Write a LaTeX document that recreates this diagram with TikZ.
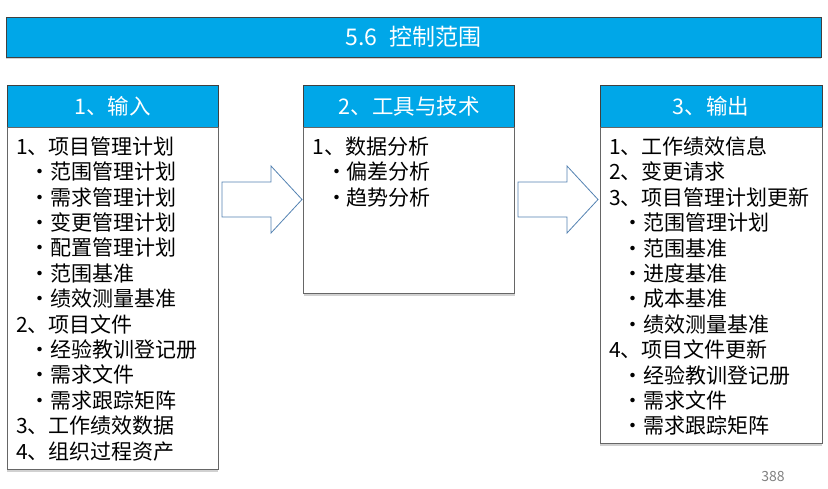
\documentclass[tikz,border=0pt]{standalone}
\usepackage{fontspec}
\setmainfont{Noto Sans CJK SC}
\usetikzlibrary{positioning,shadows}
\definecolor{headblue}{RGB}{0,167,232}
\definecolor{arrowblue}{RGB}{84,130,178}
\definecolor{pagegray}{RGB}{128,128,128}
\newcommand{\bul}[1]{\hspace*{24pt}\makebox[0pt]{\textbullet}\hspace*{10pt}#1}

\begin{document}
\begin{tikzpicture}[
    x=1pt, y=-1pt,
    node distance=85pt,
    shade/.style={drop shadow={shadow xshift=0pt, shadow yshift=-2pt, opacity=0.3, fill=black!60}},
    titlebox/.style={draw=black!75, fill=headblue, text=white, shade, minimum width=815pt, minimum height=40pt, font=\fontsize{23}{27}\selectfont},
    headbox/.style={draw=black!75, fill=headblue, text=white, shade, minimum height=42pt, font=\fontsize{21.5}{25}\selectfont},
    bodybox/.style={draw=black!60, fill=white, shade, inner xsep=9pt, inner ysep=0pt, font=\fontsize{21}{25.4}\selectfont},
    bigarrow/.style={draw=arrowblue, fill=white, line width=0.8pt, line join=miter}
  ]
  \useasboundingbox (0,0) rectangle (828,488);

  \node[titlebox] (title) at (413.5,37) {5.6\hspace{0.5em}控制范围};

  % three columns
  \node[headbox, minimum width=211pt, anchor=north west] (in-head) at (7,85) {1、输入};
  \node[headbox, minimum width=211pt, right=of in-head] (tt-head) {2、工具与技术};
  \node[headbox, minimum width=222pt, right=of tt-head] (out-head) {3、输出};

  \node[bodybox, below=0pt of in-head] (in-body) {\parbox[t][342pt][t]{193pt}{\vspace*{9pt}%
    1、项目管理计划\\
    \bul{范围管理计划}\\
    \bul{需求管理计划}\\
    \bul{变更管理计划}\\
    \bul{配置管理计划}\\
    \bul{范围基准}\\
    \bul{绩效测量基准}\\
    2、项目文件\\
    \bul{经验教训登记册}\\
    \bul{需求文件}\\
    \bul{需求跟踪矩阵}\\
    3、工作绩效数据\\
    4、组织过程资产}};
  \node[bodybox, below=0pt of tt-head] (tt-body) {\parbox[t][166pt][t]{193pt}{\vspace*{9pt}%
    1、数据分析\\
    \bul{偏差分析}\\
    \bul{趋势分析}}};
  \node[bodybox, below=0pt of out-head] (out-body) {\parbox[t][316pt][t]{204pt}{\vspace*{9pt}%
    1、工作绩效信息\\
    2、变更请求\\
    3、项目管理计划更新\\
    \bul{范围管理计划}\\
    \bul{范围基准}\\
    \bul{进度基准}\\
    \bul{成本基准}\\
    \bul{绩效测量基准}\\
    4、项目文件更新\\
    \bul{经验教训登记册}\\
    \bul{需求文件}\\
    \bul{需求跟踪矩阵}}};

  % block arrows between the columns
  \coordinate (arr1) at (222,199.5);
  \coordinate (arr2) at (518,199.5);
  \foreach \a in {arr1,arr2}
    \draw[bigarrow] (\a) ++(0,-17.5) -- ++(49,0) -- ++(0,-16) -- ++(31,33.5)
      -- ++(-31,33.5) -- ++(0,-16) -- ++(-49,0) -- cycle;

  \node[font=\fontsize{14}{16}\selectfont, text=pagegray] (pagenum) at (773,477) {388};
\end{tikzpicture}
\end{document}
